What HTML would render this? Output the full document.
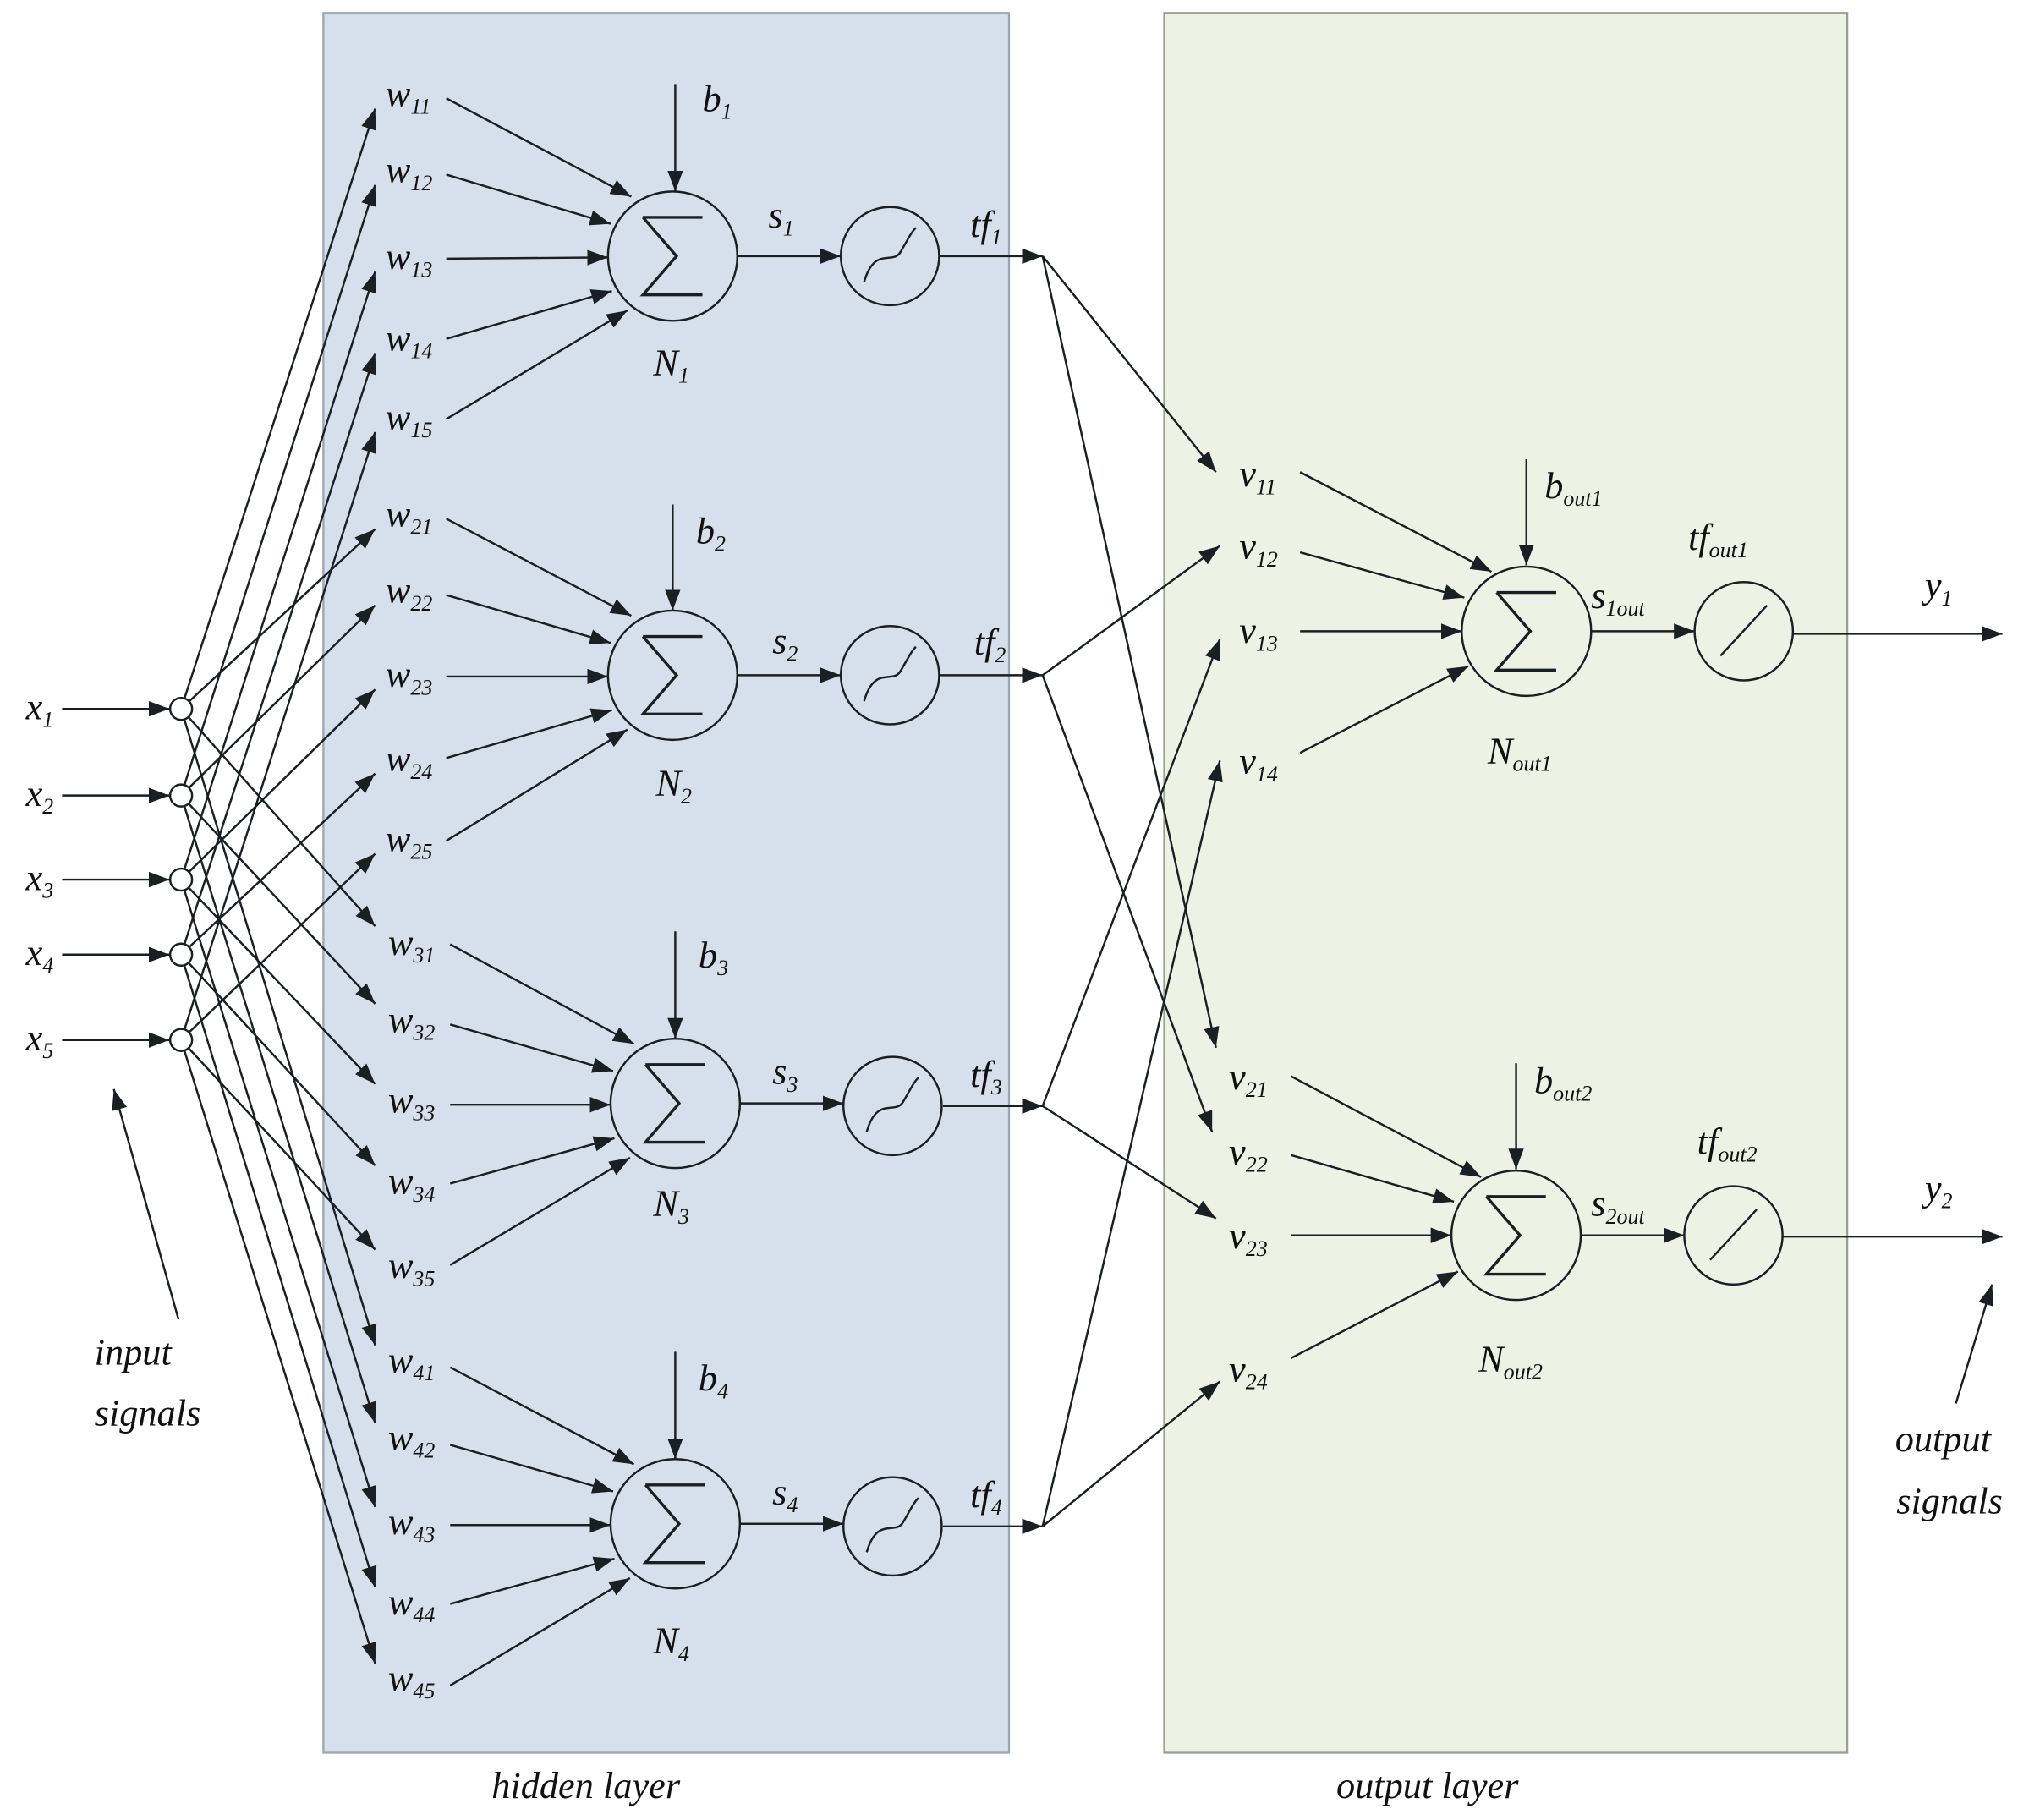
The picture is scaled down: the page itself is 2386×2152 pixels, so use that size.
<!DOCTYPE html>
<html><head><meta charset="utf-8"><style>
html,body{margin:0;padding:0;background:#fff;}
svg{display:block;}
text{font-family:"Liberation Serif",serif;font-style:italic;fill:#111;}
.s{font-size:17px;}
.m{font-size:29px;}
.sig{font-style:normal;font-size:62px;}
</style></head><body>
<svg width="2386" height="2152" viewBox="0 0 1560 1407" preserveAspectRatio="none" xmlns="http://www.w3.org/2000/svg">
<defs>
<marker id="a" markerUnits="userSpaceOnUse" markerWidth="18" markerHeight="14" refX="16" refY="7" orient="auto"><path d="M0,1 L16,7 L0,13 Z" fill="#1a1f24"/></marker>
</defs>
<rect x="250" y="10" width="530" height="1345" fill="#d6e0ec" stroke="#9aa6b2" stroke-width="1.5"/>
<rect x="900" y="10" width="528" height="1345" fill="#eef2e4" stroke="#9aa090" stroke-width="1.5"/>
<g stroke="#1a1f24" stroke-width="1.6" fill="none" marker-end="url(#a)">
<!-- inputs -->
<line x1="48" y1="548" x2="131" y2="548"/><line x1="48" y1="615" x2="131" y2="615"/><line x1="48" y1="680" x2="131" y2="680"/><line x1="48" y1="738" x2="131" y2="738"/><line x1="48" y1="804" x2="131" y2="804"/>
<!-- group1 -->
<line x1="140" y1="548" x2="290" y2="84"/><line x1="140" y1="615" x2="290" y2="143"/><line x1="140" y1="680" x2="290" y2="210"/><line x1="140" y1="738" x2="290" y2="273"/><line x1="140" y1="804" x2="290" y2="334"/>
<!-- group2 -->
<line x1="140" y1="548" x2="290" y2="409"/><line x1="140" y1="615" x2="290" y2="468"/><line x1="140" y1="680" x2="290" y2="533"/><line x1="140" y1="738" x2="290" y2="598"/><line x1="140" y1="804" x2="290" y2="660"/>
<!-- group3 -->
<line x1="140" y1="548" x2="290" y2="716"/><line x1="140" y1="615" x2="290" y2="776"/><line x1="140" y1="680" x2="290" y2="838"/><line x1="140" y1="738" x2="290" y2="901"/><line x1="140" y1="804" x2="290" y2="966"/>
<!-- group4 -->
<line x1="140" y1="548" x2="290" y2="1040"/><line x1="140" y1="615" x2="290" y2="1100"/><line x1="140" y1="680" x2="290" y2="1165"/><line x1="140" y1="738" x2="290" y2="1227"/><line x1="140" y1="804" x2="290" y2="1286"/>
<!-- w to sums N1 (520,198) -->
<line x1="345" y1="76" x2="488" y2="152"/><line x1="345" y1="135" x2="472" y2="173"/><line x1="345" y1="200" x2="470" y2="199"/><line x1="345" y1="262" x2="473" y2="225"/><line x1="345" y1="324" x2="485" y2="240"/>
<!-- N2 (520,522) -->
<line x1="345" y1="401" x2="488" y2="476"/><line x1="345" y1="460" x2="472" y2="497"/><line x1="345" y1="523" x2="470" y2="523"/><line x1="345" y1="586" x2="473" y2="549"/><line x1="345" y1="650" x2="485" y2="564"/>
<!-- N3 (522,853) -->
<line x1="348" y1="730" x2="490" y2="807"/><line x1="348" y1="792" x2="474" y2="828"/><line x1="348" y1="854" x2="472" y2="854"/><line x1="348" y1="915" x2="475" y2="880"/><line x1="348" y1="978" x2="487" y2="895"/>
<!-- N4 (522,1178) -->
<line x1="348" y1="1057" x2="490" y2="1132"/><line x1="348" y1="1117" x2="474" y2="1153"/><line x1="348" y1="1179" x2="472" y2="1179"/><line x1="348" y1="1240" x2="475" y2="1205"/><line x1="348" y1="1303" x2="487" y2="1220"/>
<!-- biases -->
<line x1="522" y1="65" x2="522" y2="148"/><line x1="520" y1="390" x2="520" y2="472"/><line x1="522" y1="720" x2="522" y2="803"/><line x1="522" y1="1045" x2="522" y2="1128"/>
<!-- s arrows -->
<line x1="570" y1="198" x2="650" y2="198"/><line x1="570" y1="522" x2="650" y2="522"/><line x1="572" y1="853" x2="652" y2="853"/><line x1="572" y1="1178" x2="652" y2="1178"/>
<!-- tf arrows -->
<line x1="727" y1="198" x2="806" y2="198"/><line x1="727" y1="522" x2="806" y2="522"/><line x1="729" y1="855" x2="806" y2="855"/><line x1="729" y1="1180" x2="806" y2="1180"/>
<!-- tf to v -->
<line x1="806" y1="198" x2="940" y2="365"/><line x1="806" y1="198" x2="940" y2="810"/>
<line x1="806" y1="522" x2="943" y2="422"/><line x1="806" y1="522" x2="937" y2="875"/>
<line x1="806" y1="855" x2="943" y2="494"/><line x1="806" y1="855" x2="940" y2="942"/>
<line x1="806" y1="1180" x2="943" y2="588"/><line x1="806" y1="1180" x2="943" y2="1068"/>
<!-- v to Nout1 (1180,488) -->
<line x1="1005" y1="365" x2="1153" y2="442"/><line x1="1005" y1="427" x2="1132" y2="462"/><line x1="1005" y1="488" x2="1130" y2="488"/><line x1="1005" y1="582" x2="1135" y2="515"/>
<!-- v to Nout2 (1172,955) -->
<line x1="998" y1="832" x2="1145" y2="910"/><line x1="998" y1="893" x2="1124" y2="929"/><line x1="998" y1="955" x2="1122" y2="955"/><line x1="998" y1="1050" x2="1127" y2="983"/>
<!-- out biases -->
<line x1="1180" y1="355" x2="1180" y2="437"/><line x1="1172" y1="822" x2="1172" y2="904"/>
<!-- s out -->
<line x1="1230" y1="488" x2="1310" y2="488"/><line x1="1222" y1="955" x2="1302" y2="955"/>
<!-- y -->
<line x1="1386" y1="490" x2="1548" y2="490"/><line x1="1378" y1="956" x2="1548" y2="956"/>
<!-- signal arrows -->
<line x1="138" y1="1020" x2="88" y2="842"/><line x1="1512" y1="1085" x2="1540" y2="993"/>
</g>
<g stroke="#1a1f24" stroke-width="1.6" fill="#fff">
<circle cx="140" cy="548" r="8.5"/><circle cx="140" cy="615" r="8.5"/><circle cx="140" cy="680" r="8.5"/><circle cx="140" cy="738" r="8.5"/><circle cx="140" cy="804" r="8.5"/>
</g>
<g stroke="#1a1f24" stroke-width="1.6" fill="none">
<circle cx="520" cy="198" r="50"/><circle cx="520" cy="522" r="50"/><circle cx="522" cy="853" r="50"/><circle cx="522" cy="1178" r="50"/>
<circle cx="688" cy="198" r="38"/><circle cx="688" cy="522" r="38"/><circle cx="690" cy="855" r="38"/><circle cx="690" cy="1180" r="38"/>
<path d="M668,218 C676,190 690,205 696,195 S704,180 708,176"/>
<path d="M668,542 C676,514 690,529 696,519 S704,504 708,500"/>
<path d="M670,875 C678,847 692,862 698,852 S706,837 710,833"/>
<path d="M670,1200 C678,1172 692,1187 698,1177 S706,1162 710,1158"/>
<circle cx="1180" cy="488" r="50"/><circle cx="1172" cy="955" r="50"/>
<circle cx="1348" cy="488" r="38"/><circle cx="1340" cy="955" r="38"/>
<line x1="1330" y1="507" x2="1366" y2="468"/><line x1="1322" y1="974" x2="1358" y2="935"/>
</g>
<g stroke="#1a1f24" stroke-width="2.2" fill="none">
<path d="M497,168 H543 M497,168 L523,198 L497,228 H543"/>
<path d="M497,492 H543 M497,492 L523,522 L497,552 H543"/>
<path d="M499,823 H545 M499,823 L525,853 L499,883 H545"/>
<path d="M499,1148 H545 M499,1148 L525,1178 L499,1208 H545"/>
<path d="M1157,458 H1203 M1157,458 L1183,488 L1157,518 H1203"/>
<path d="M1149,925 H1195 M1149,925 L1175,955 L1149,985 H1195"/>
</g>
<!-- input labels -->
<text x="20" y="556" class="m">x<tspan class="s" dy="6">1</tspan></text>
<text x="20" y="623" class="m">x<tspan class="s" dy="6">2</tspan></text>
<text x="20" y="688" class="m">x<tspan class="s" dy="6">3</tspan></text>
<text x="20" y="746" class="m">x<tspan class="s" dy="6">4</tspan></text>
<text x="20" y="812" class="m">x<tspan class="s" dy="6">5</tspan></text>
<!-- w labels -->
<g class="m">
<text x="298" y="82">w<tspan class="s" dy="6">11</tspan></text>
<text x="298" y="141">w<tspan class="s" dy="6">12</tspan></text>
<text x="298" y="208">w<tspan class="s" dy="6">13</tspan></text>
<text x="298" y="271">w<tspan class="s" dy="6">14</tspan></text>
<text x="298" y="332">w<tspan class="s" dy="6">15</tspan></text>
<text x="298" y="407">w<tspan class="s" dy="6">21</tspan></text>
<text x="298" y="466">w<tspan class="s" dy="6">22</tspan></text>
<text x="298" y="531">w<tspan class="s" dy="6">23</tspan></text>
<text x="298" y="596">w<tspan class="s" dy="6">24</tspan></text>
<text x="298" y="658">w<tspan class="s" dy="6">25</tspan></text>
<text x="300" y="738">w<tspan class="s" dy="6">31</tspan></text>
<text x="300" y="798">w<tspan class="s" dy="6">32</tspan></text>
<text x="300" y="860">w<tspan class="s" dy="6">33</tspan></text>
<text x="300" y="923">w<tspan class="s" dy="6">34</tspan></text>
<text x="300" y="988">w<tspan class="s" dy="6">35</tspan></text>
<text x="300" y="1061">w<tspan class="s" dy="6">41</tspan></text>
<text x="300" y="1121">w<tspan class="s" dy="6">42</tspan></text>
<text x="300" y="1186">w<tspan class="s" dy="6">43</tspan></text>
<text x="300" y="1248">w<tspan class="s" dy="6">44</tspan></text>
<text x="300" y="1307">w<tspan class="s" dy="6">45</tspan></text>
</g>
<g class="m">
<text x="543" y="86">b<tspan class="s" dy="6">1</tspan></text>
<text x="538" y="420">b<tspan class="s" dy="6">2</tspan></text>
<text x="540" y="748">b<tspan class="s" dy="6">3</tspan></text>
<text x="540" y="1075">b<tspan class="s" dy="6">4</tspan></text>
<text x="594" y="176">s<tspan class="s" dy="6">1</tspan></text>
<text x="597" y="505">s<tspan class="s" dy="6">2</tspan></text>
<text x="597" y="838">s<tspan class="s" dy="6">3</tspan></text>
<text x="597" y="1163">s<tspan class="s" dy="6">4</tspan></text>
<text x="750" y="183">tf<tspan class="s" dy="6">1</tspan></text>
<text x="753" y="506">tf<tspan class="s" dy="6">2</tspan></text>
<text x="750" y="840">tf<tspan class="s" dy="6">3</tspan></text>
<text x="750" y="1165">tf<tspan class="s" dy="6">4</tspan></text>
<text x="505" y="290">N<tspan class="s" dy="6">1</tspan></text>
<text x="507" y="615">N<tspan class="s" dy="6">2</tspan></text>
<text x="505" y="940">N<tspan class="s" dy="6">3</tspan></text>
<text x="505" y="1278">N<tspan class="s" dy="6">4</tspan></text>
<text x="958" y="376">v<tspan class="s" dy="6">11</tspan></text>
<text x="958" y="432">v<tspan class="s" dy="6">12</tspan></text>
<text x="958" y="497">v<tspan class="s" dy="6">13</tspan></text>
<text x="958" y="598">v<tspan class="s" dy="6">14</tspan></text>
<text x="950" y="842">v<tspan class="s" dy="6">21</tspan></text>
<text x="950" y="900">v<tspan class="s" dy="6">22</tspan></text>
<text x="950" y="965">v<tspan class="s" dy="6">23</tspan></text>
<text x="950" y="1068">v<tspan class="s" dy="6">24</tspan></text>
<text x="1194" y="385">b<tspan class="s" dy="6">out1</tspan></text>
<text x="1186" y="845">b<tspan class="s" dy="6">out2</tspan></text>
<text x="1305" y="425">tf<tspan class="s" dy="6">out1</tspan></text>
<text x="1312" y="892">tf<tspan class="s" dy="6">out2</tspan></text>
<text x="1230" y="470">s<tspan class="s" dy="6">1out</tspan></text>
<text x="1230" y="940">s<tspan class="s" dy="6">2out</tspan></text>
<text x="1150" y="590">N<tspan class="s" dy="6">out1</tspan></text>
<text x="1143" y="1060">N<tspan class="s" dy="6">out2</tspan></text>
<text x="1488" y="462">y<tspan class="s" dy="6">1</tspan></text>
<text x="1488" y="928">y<tspan class="s" dy="6">2</tspan></text>
<text x="73" y="1055">input</text>
<text x="73" y="1102">signals</text>
<text x="1465" y="1122">output</text>
<text x="1466" y="1170">signals</text>
<text x="380" y="1390">hidden layer</text>
<text x="1033" y="1390">output layer</text>
</g>
</svg>
</body></html>
